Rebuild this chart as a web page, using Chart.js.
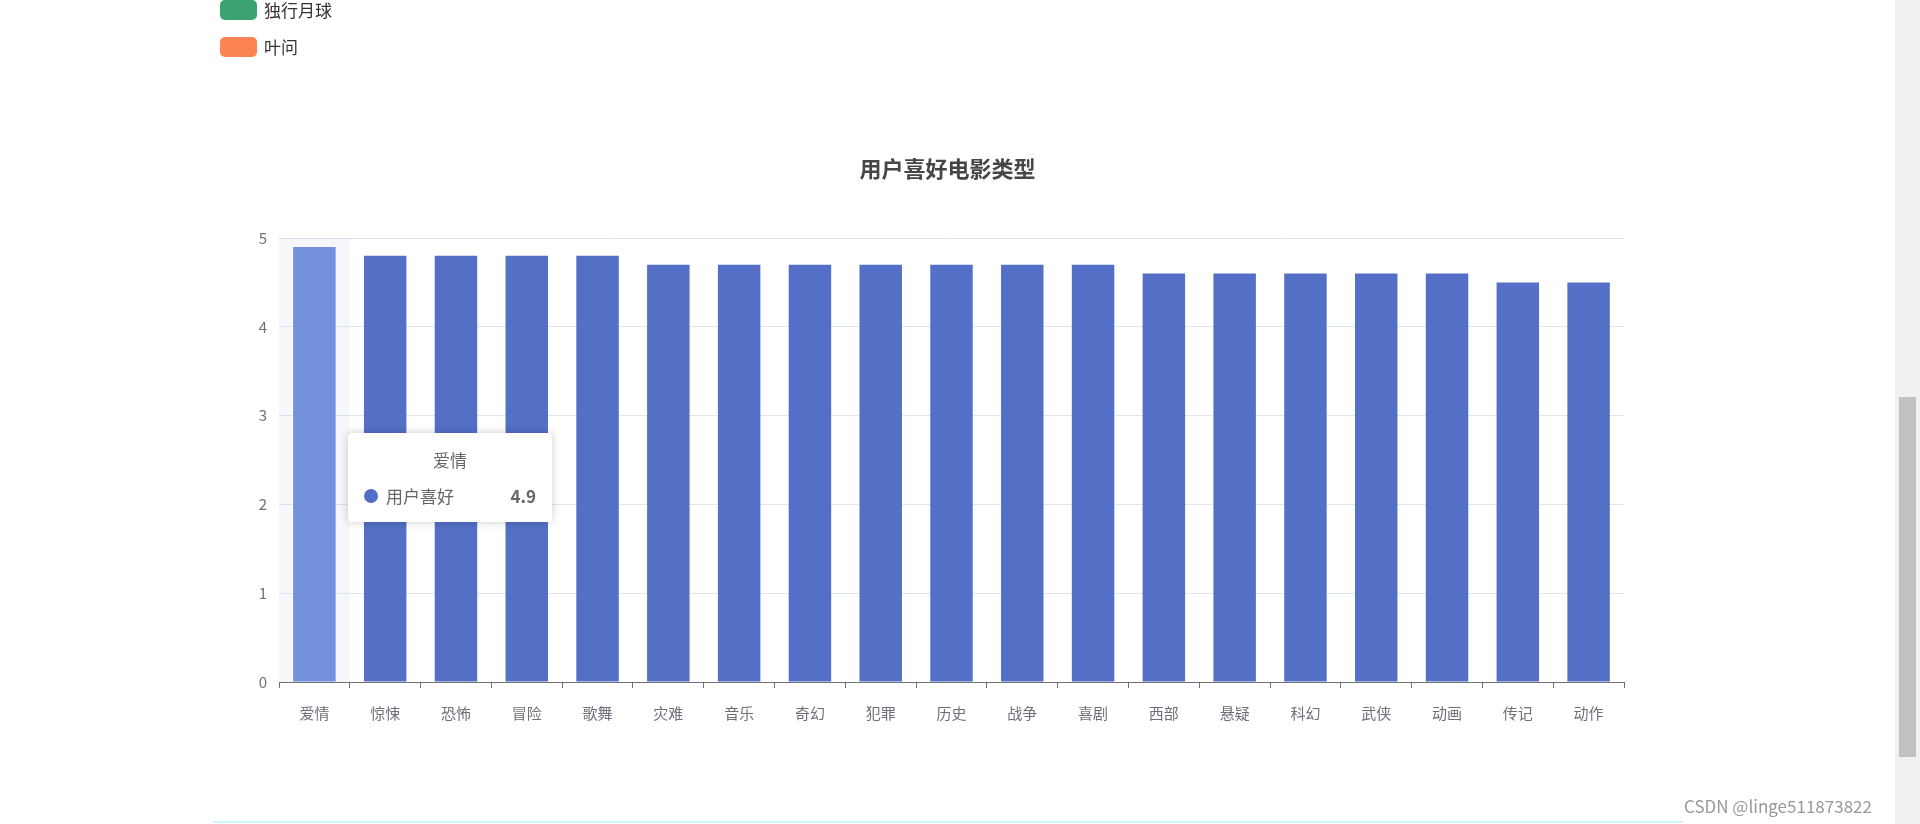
<!DOCTYPE html>
<html><head><meta charset="utf-8">
<script src="https://cdn.jsdelivr.net/npm/chart.js@4"></script>
<style>
body{margin:0;background:#fff;font-family:"Noto Sans CJK SC","Noto Sans",sans-serif;overflow:hidden;width:1920px;height:824px;position:relative}
#wrap{position:absolute;left:0;top:0;width:1895px;height:824px}
.leg{position:absolute;left:220px;font-size:17px;color:#333;display:flex;align-items:center}
.leg span{display:inline-block;width:37px;height:20px;border-radius:5px;margin-right:7px}
#title{position:absolute;left:0;width:1895px;top:151px;text-align:center;font-size:22px;font-weight:bold;color:#464646}
#tip{position:absolute;left:348px;top:433px;width:204px;height:89px;background:#fff;border-radius:4px;box-shadow:0 0 10px rgba(0,0,0,0.2);color:#666;font-size:17px}
#sb{position:absolute;right:0;top:0;width:25px;height:824px;background:#f1f1f1}
#sb div{position:absolute;left:4px;top:397px;width:17px;height:360px;background:#c1c1c1}
#wm{position:absolute;left:1684px;top:793px;font-size:17px;color:#999}
#bl{position:absolute;left:213px;top:821px;width:1470px;height:2px;background:#cdf6fb}
</style></head><body>
<div id="wrap"><canvas id="c"></canvas></div>
<div class="leg" style="top:-3px"><span style="background:#3ba272"></span>独行月球</div>
<div class="leg" style="top:34px"><span style="background:#fc8452"></span>叶问</div>
<div id="title">用户喜好电影类型</div>
<div id="tip">
 <div style="position:absolute;top:14px;width:100%;text-align:center">爱情</div>
 <div style="position:absolute;top:50px;left:16px;display:flex;align-items:center;width:172px">
  <span style="display:inline-block;width:14px;height:14px;border-radius:7px;background:#5470c6;margin-right:8px"></span>用户喜好
  <b style="margin-left:auto;color:#666">4.9</b></div>
</div>
<div id="sb"><div></div></div>
<div id="wm">CSDN @linge511873822</div>
<div id="bl"></div>
<script>
const categories=["爱情","惊悚","恐怖","冒险","歌舞","灾难","音乐","奇幻","犯罪","历史","战争","喜剧","西部","悬疑","科幻","武侠","动画","传记","动作"];
const values=[4.9,4.8,4.8,4.8,4.8,4.7,4.7,4.7,4.7,4.7,4.7,4.7,4.6,4.6,4.6,4.6,4.6,4.5,4.5];
const yTicks=[0,1,2,3,4,5];
const activeIndex=0;
const band={id:'band',beforeDatasetsDraw(ch){
  const x=ch.scales.x,a=ch.chartArea,ctx=ch.ctx;
  const w=(a.right-a.left)/categories.length;
  const cx=x.getPixelForValue(activeIndex);
  ctx.save();ctx.fillStyle='rgba(150,150,200,0.08)';
  ctx.fillRect(cx-w/2,a.top,w,a.bottom-a.top);ctx.restore();}};
new Chart(document.getElementById('c'),{
 type:'bar',
 data:{labels:categories,datasets:[{label:'用户喜好',data:values,
   backgroundColor:values.map((v,i)=>i===activeIndex?'#7490dd':'#5470c6'),
   barPercentage:0.6,categoryPercentage:1}]},
 options:{responsive:true,maintainAspectRatio:false,animation:false,
  layout:{padding:{left:239,right:271,top:238,bottom:82}},
  plugins:{legend:{display:false},tooltip:{enabled:false}},
  scales:{
   x:{afterFit:s=>{s.height=60},offset:true,
      grid:{display:true,drawOnChartArea:false,drawTicks:true,tickLength:6,offset:true,color:'#6e7079'},
      border:{color:'#6e7079'},
      ticks:{color:'#6e7079',font:{size:15,family:'Noto Sans CJK SC'},padding:16}},
   y:{afterFit:s=>{s.width=40},min:0,max:5,
      afterBuildTicks:s=>{s.ticks=yTicks.map(v=>({value:v}))},
      grid:{color:'#e0e6f1',drawTicks:false},border:{display:false},
      ticks:{color:'#6e7079',font:{size:15,family:'Noto Sans CJK SC'},padding:12}}
  }},
 plugins:[band]});
</script></body></html>
